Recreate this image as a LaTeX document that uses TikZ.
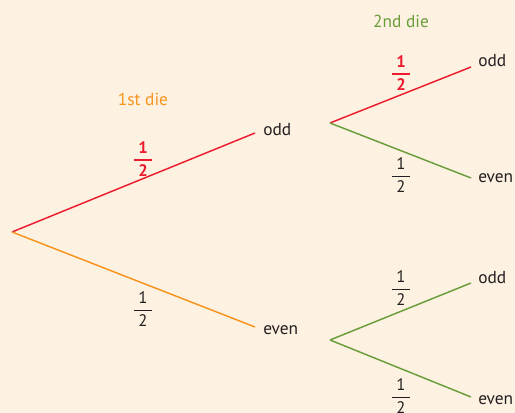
\documentclass[tikz,border=0pt]{standalone}
\usepackage{amsmath}
\usepackage{fontspec}
\setmainfont{PT Sans}
\definecolor{bgc}{RGB}{253,241,226}
\definecolor{redc}{RGB}{236,28,46}
\definecolor{orangec}{RGB}{247,148,29}
\definecolor{greenc}{RGB}{106,158,58}
\definecolor{txtc}{RGB}{35,31,32}
\tikzset{
  outcome/.style={anchor=west, inner sep=0pt, text=txtc, font=\fontsize{13}{15}\selectfont},
  heading/.style={inner sep=0pt, font=\fontsize{13}{15}\selectfont},
  prob/.style={inner sep=0pt, text=txtc, font=\fontsize{12.5}{14}\selectfont},
  probred/.style={inner sep=0pt, text=redc, font=\fontsize{12.5}{14}\selectfont\bfseries},
  branch/.style={line width=1.1pt},
}
\newcommand{\halfn}{$\displaystyle{\mkern5mu\text{1}\mkern5mu \above 0.8pt \mkern5mu\text{2}\mkern5mu}$}
\newcommand{\halfb}{$\displaystyle{\mkern5mu\text{\bfseries 1}\mkern5mu \above 1pt \mkern5mu\text{\bfseries 2}\mkern5mu}$}
\begin{document}
\begin{tikzpicture}[x=0.75pt,y=-0.75pt]
\fill[bgc] (0,0) rectangle (515,413);
\useasboundingbox (0,0) rectangle (515,413);
\coordinate (root) at (12,232);
\coordinate (o1) at (255,133);
\coordinate (e1) at (255,327);
\coordinate (ro) at (330,123);
\coordinate (re) at (330,340);
\coordinate (oo) at (471,67);
\coordinate (oe) at (471,178);
\coordinate (eo) at (471,283);
\coordinate (ee) at (471,397);
\draw[branch,redc] (root) -- (o1);
\draw[branch,orangec] (root) -- (e1);
\draw[branch,redc] (ro) -- (oo);
\draw[branch,greenc] (ro) -- (oe);
\draw[branch,greenc] (re) -- (eo);
\draw[branch,greenc] (re) -- (ee);
\node[outcome] (t1) at (263,130) {odd};
\node[outcome] (t2) at (263,330) {even};
\node[outcome] (t3) at (478,61) {odd};
\node[outcome] (t4) at (478,178) {even};
\node[outcome] (t5) at (478,278) {odd};
\node[outcome] (t6) at (478,400) {even};
\node[heading,text=orangec] (h1) at (143,99) {1st die};
\node[heading,text=greenc] (h2) at (401,21) {2nd die};
\node[probred] (p1) at (143,159) {\halfb};
\node[prob] (p2) at (143,309) {\halfn};
\node[probred] (p3) at (401,73) {\halfb};
\node[prob] (p4) at (401,175) {\halfn};
\node[prob] (p5) at (401,288) {\halfn};
\node[prob] (p6) at (401,396) {\halfn};
\end{tikzpicture}
\end{document}
